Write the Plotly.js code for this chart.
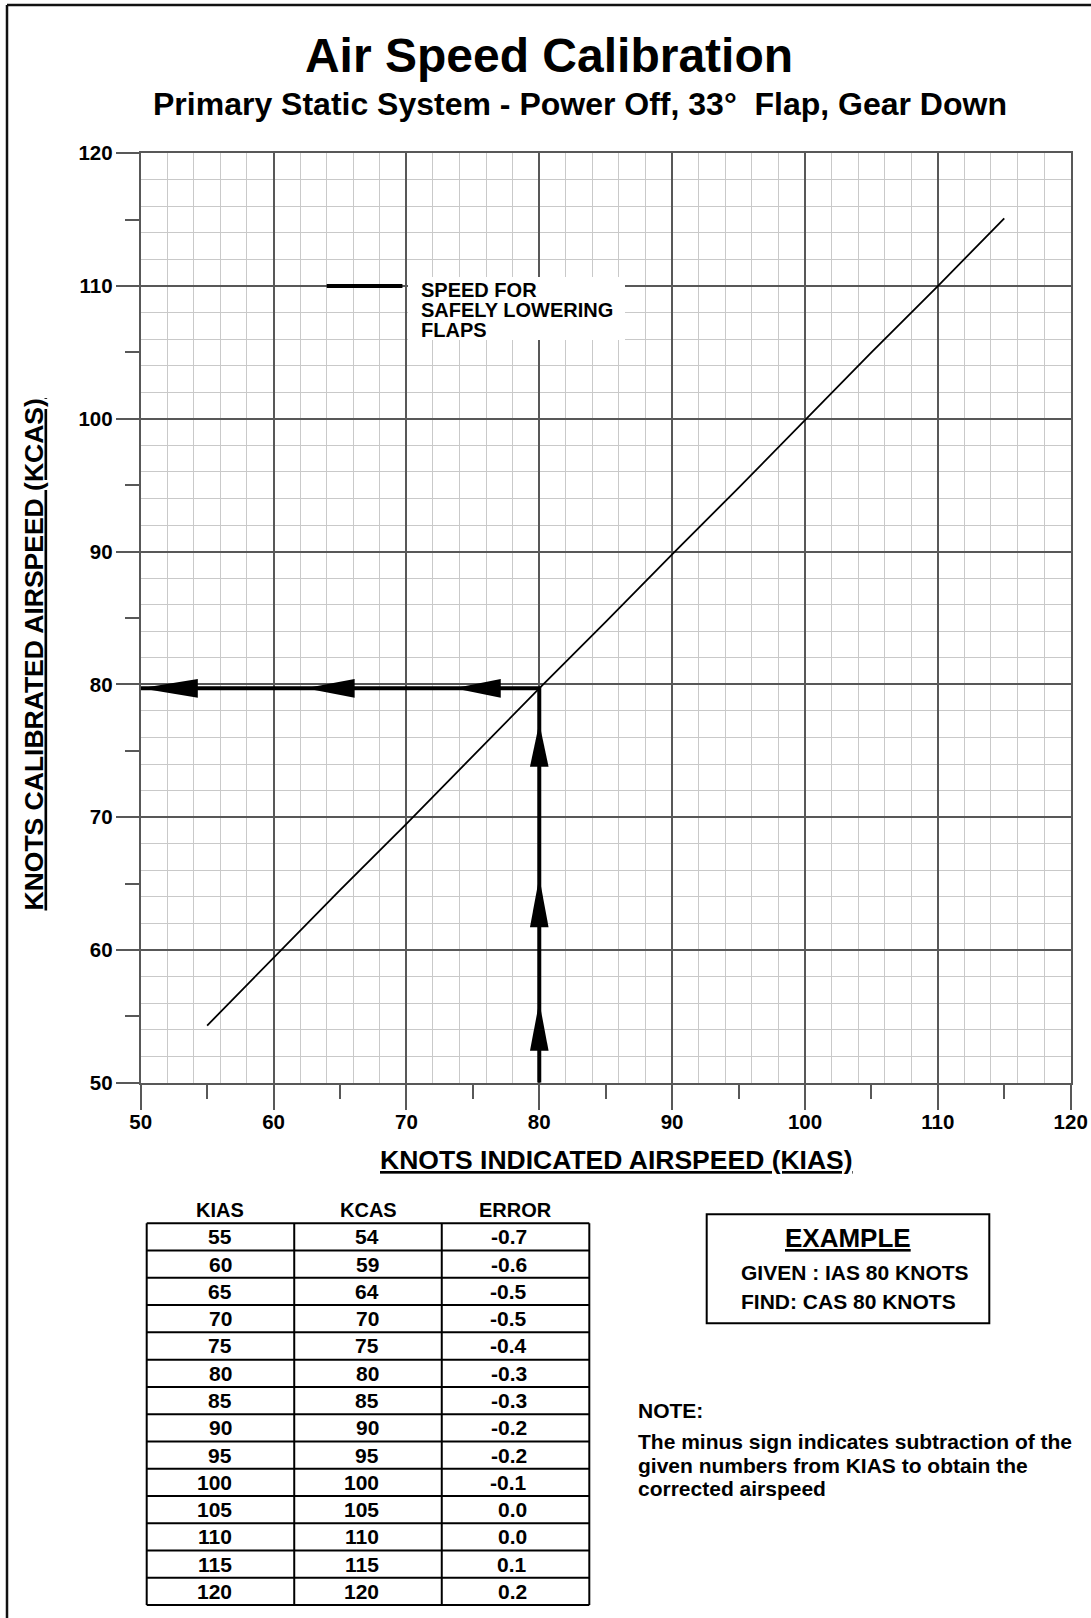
<!DOCTYPE html>
<html>
<head>
<meta charset="utf-8">
<script src="https://cdn.plot.ly/plotly-3.0.1.min.js"></script>
<style>
  html, body { margin: 0; padding: 0; background: #fff; }
  #chart { width: 1091px; height: 1618px; }
</style>
</head>
<body>
<div id="chart"></div>
<script>
// Calibration table: indicated airspeed, calibrated airspeed, error (knots)
const kias  = [55, 60, 65, 70, 75, 80, 85, 90, 95, 100, 105, 110, 115, 120];
const kcas  = [54, 59, 64, 70, 75, 80, 85, 90, 95, 100, 105, 110, 115, 120];
const error = [-0.7, -0.6, -0.5, -0.5, -0.4, -0.3, -0.3, -0.2, -0.2, -0.1, 0.0, 0.0, 0.1, 0.2];
const tableHeaders = ['KIAS', 'KCAS', 'ERROR'];

// The calibration curve is drawn up to this indicated speed
const curveEndKias = 115;

// Worked example: enter at the given IAS, read CAS off the curve
const exampleIas = 80;
// Arrowheads along the example path, [tip, base] in knots
const upArrows   = [[56.1, 52.4], [65.5, 61.7], [77.1, 73.8]];
const leftArrows = [[50.0, 54.3], [62.4, 66.1], [73.6, 77.1]];

// Key for the flap-lowering speed mark
const flapKeyKias = [64, 69.7];
const flapKeyKcas = 110;
const flapKeyLines = ['SPEED FOR', 'SAFELY LOWERING', 'FLAPS'];

const noteLines = [
  'The minus sign indicates subtraction of the',
  'given numbers from KIAS to obtain the',
  'corrected airspeed'
];

// ---- page geometry (pixels) ----
const W = 1091, H = 1618;
const px = x => x / W;
const py = y => 1 - y / H;
const PLOT = { l: 140.7, r: 1070.7, t: 153.3, b: 1082.7 };
const TABLE = { l: 146.7, r: 589.3, top: 1223.3, b: 1605 };
const colW = (TABLE.r - TABLE.l) / 3;
const rowH = (TABLE.b - TABLE.top) / kias.length;

const FAMILY = 'Liberation Sans, Arial, Helvetica, sans-serif';
const font = (size, extra) => Object.assign({ family: FAMILY, size: size, color: '#000', weight: 'bold' }, extra || {});
const GRID_MAJOR = '#585858';
const GRID_MINOR = '#c9c9c9';

// ---- calibration curve: CAS = IAS + error ----
const curveX = [], curveY = [];
kias.forEach((v, i) => {
  if (v <= curveEndKias) {
    curveX.push(v);
    curveY.push(Math.round((v + error[i]) * 10) / 10);
  }
});
const exIdx = kias.indexOf(exampleIas);
const exampleCas = Math.round((exampleIas + error[exIdx]) * 10) / 10;

const traces = [
  {
    type: 'scatter', mode: 'lines', x: curveX, y: curveY,
    line: { color: '#000', width: 1.8 }, hoverinfo: 'skip', xaxis: 'x', yaxis: 'y'
  },
  {
    type: 'scatter', mode: 'lines',
    x: [exampleIas, exampleIas, 50], y: [50, exampleCas, exampleCas],
    line: { color: '#000', width: 4 }, hoverinfo: 'skip', xaxis: 'x', yaxis: 'y'
  },
  // anchors for the secondary tick axes and the table frame
  { type: 'scatter', x: [], y: [], xaxis: 'x3', yaxis: 'y', hoverinfo: 'skip' },
  { type: 'scatter', x: [], y: [], xaxis: 'x', yaxis: 'y3', hoverinfo: 'skip' },
  { type: 'scatter', x: [], y: [], xaxis: 'x2', yaxis: 'y2', hoverinfo: 'skip' }
];

// ---- shapes ----
const shapes = [];
const halfW = 0.7; // arrowhead half width in knots (axes share one scale)
leftArrows.forEach(([tip, base]) => {
  shapes.push({
    type: 'path', xref: 'x', yref: 'y',
    path: `M ${tip},${exampleCas} L ${base},${exampleCas + halfW} L ${base},${exampleCas - halfW} Z`,
    fillcolor: '#000', line: { width: 0 }, layer: 'above'
  });
});
upArrows.forEach(([tip, base]) => {
  shapes.push({
    type: 'path', xref: 'x', yref: 'y',
    path: `M ${exampleIas},${tip} L ${exampleIas + halfW},${base} L ${exampleIas - halfW},${base} Z`,
    fillcolor: '#000', line: { width: 0 }, layer: 'above'
  });
});
// flap speed key
shapes.push({
  type: 'line', xref: 'x', yref: 'y',
  x0: flapKeyKias[0], x1: flapKeyKias[1], y0: flapKeyKcas, y1: flapKeyKcas,
  line: { color: '#000', width: 4 }, layer: 'above'
});
shapes.push({
  type: 'rect', xref: 'paper', yref: 'paper',
  x0: px(408), x1: px(625), y0: py(340), y1: py(277),
  fillcolor: '#fff', line: { width: 0 }, layer: 'above'
});
// table frame
for (let r = 0; r <= kias.length; r++) {
  shapes.push({
    type: 'line', xref: 'x2', yref: 'y2', x0: 0, x1: 3, y0: r, y1: r,
    line: { color: '#000', width: 2 }
  });
}
for (let c = 0; c <= 3; c++) {
  shapes.push({
    type: 'line', xref: 'x2', yref: 'y2', x0: c, x1: c, y0: 0, y1: kias.length,
    line: { color: '#000', width: 2 }
  });
}
// example box
shapes.push({
  type: 'rect', xref: 'paper', yref: 'paper',
  x0: px(706.7), x1: px(989.3), y0: py(1323.3), y1: py(1214.3),
  line: { color: '#000', width: 2 }, fillcolor: 'rgba(0,0,0,0)'
});
// page frame
shapes.push({
  type: 'line', xref: 'paper', yref: 'paper', x0: px(7), x1: 1, y0: py(5), y1: py(5),
  line: { color: '#111', width: 2.5 }
});
shapes.push({
  type: 'line', xref: 'paper', yref: 'paper', x0: px(7), x1: px(7), y0: 0, y1: py(5),
  line: { color: '#111', width: 2.5 }
});

// ---- annotations ----
const ann = [];
const note = (text, x, y, f, xanchor, extra) => ann.push(Object.assign({
  text: text, x: px(x), y: py(y), xref: 'paper', yref: 'paper',
  xanchor: xanchor || 'center', yanchor: 'middle', showarrow: false, font: f
}, extra || {}));

note('Primary Static System - Power Off, 33°\u00a0 Flap, Gear Down', 580, 104, font(32));
note('KNOTS INDICATED AIRSPEED (KIAS)', 616.5, 1160, font(26.5, { lineposition: 'under' }));
note('KNOTS CALIBRATED AIRSPEED (KCAS)', 33.5, 655, font(26.5, { lineposition: 'under' }), 'center', { textangle: -90 });

flapKeyLines.forEach((t, i) => note(t, 419, 290 + i * 20, font(20), 'left'));

// table header and cells
tableHeaders.forEach((h, c) => ann.push({
  text: h, x: c + 0.5, y: -0.5, xref: 'x2', yref: 'y2',
  xanchor: 'center', yanchor: 'middle', showarrow: false, font: font(20)
}));
const columns = [kias.map(String), kcas.map(String), error.map(e => e.toFixed(1))];
columns.forEach((col, c) => col.forEach((t, r) => ann.push({
  text: t, x: c + 0.59, y: r + 0.5, xref: 'x2', yref: 'y2',
  xanchor: 'right', yanchor: 'middle', showarrow: false, font: font(21)
})));

// example box text
note('EXAMPLE', 848, 1238, font(26, { lineposition: 'under' }));
note(`GIVEN : IAS ${exampleIas} KNOTS`, 738.5, 1272.7, font(21), 'left');
note(`FIND: CAS ${Math.round(exampleCas)} KNOTS`, 738.5, 1301, font(21), 'left');

// note
note('NOTE:', 636, 1410, font(21), 'left');
noteLines.forEach((t, i) => note(t, 636, 1441.7 + i * 23.4, font(21), 'left'));

// ---- axes ----
const mainAxis = (domain, anchor, ticklen, standoff) => ({
  domain: domain, range: [50, 120], anchor: anchor,
  tickmode: 'linear', tick0: 50, dtick: 10,
  ticks: 'outside', ticklen: ticklen, tickwidth: 2, tickcolor: GRID_MAJOR,
  tickfont: font(20.5), ticklabelstandoff: standoff,
  showline: true, mirror: true, linecolor: GRID_MAJOR, linewidth: 2,
  showgrid: true, gridcolor: GRID_MAJOR, gridwidth: 2, zeroline: false,
  minor: { tickmode: 'linear', tick0: 50, dtick: 2, showgrid: true, gridcolor: GRID_MINOR, gridwidth: 1, ticks: '' },
  fixedrange: true
});
const halfTickAxis = (overlay, anchor, side, ticklen) => ({
  overlaying: overlay, anchor: anchor, side: side, range: [50, 120],
  tickmode: 'linear', tick0: 55, dtick: 10,
  ticks: 'outside', ticklen: ticklen, tickwidth: 2, tickcolor: GRID_MAJOR,
  showticklabels: false, showgrid: false, zeroline: false, showline: false,
  fixedrange: true
});

const layout = {
  width: W, height: H,
  margin: { l: 0, r: 0, t: 0, b: 0 },
  paper_bgcolor: '#fff', plot_bgcolor: '#fff',
  showlegend: false,
  font: { family: FAMILY, color: '#000' },
  title: {
    text: 'Air Speed Calibration', font: font(48),
    xref: 'container', yref: 'container',
    x: px(549), xanchor: 'center', y: py(55), yanchor: 'middle'
  },
  xaxis: mainAxis([px(PLOT.l), px(PLOT.r)], 'y', 25, -5),
  yaxis: mainAxis([py(PLOT.b), py(PLOT.t)], 'x', 23, -1),
  xaxis3: halfTickAxis('x', 'y', 'bottom', 15),
  yaxis3: halfTickAxis('y', 'x', 'left', 15),
  xaxis2: {
    domain: [px(TABLE.l - 0.05 * colW), px(TABLE.r + 0.05 * colW)],
    range: [-0.05, 3.05], anchor: 'y2', visible: false, fixedrange: true
  },
  yaxis2: {
    domain: [py(TABLE.b + 0.1 * rowH), py(TABLE.top - rowH)],
    range: [kias.length + 0.1, -1], anchor: 'x2', visible: false, fixedrange: true
  },
  shapes: shapes,
  annotations: ann
};

Plotly.newPlot('chart', traces, layout, { displayModeBar: false, staticPlot: true });
</script>
</body>
</html>
